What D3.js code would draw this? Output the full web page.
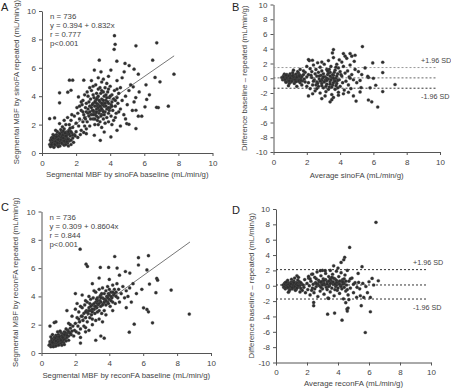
<!DOCTYPE html>
<html><head><meta charset="utf-8">
<script src="https://cdn.jsdelivr.net/npm/d3@7"></script>
<style>body{margin:0;background:#fff}svg{display:block;font-family:"Liberation Sans",Arial,sans-serif}</style>
</head><body><div id="main"></div>
<script>
// ticks
const ticks0to10 = [0, 2, 4, 6, 8, 10];
const ticksDiff = [-10, -8, -6, -4, -2, 0, 2, 4, 6, 8, 10];

// A: sinoFA baseline vs repeated
const sinoPairs = [
[0.45,0.6],[0.5,0.9],[0.55,0.75],[0.6,1.1],[0.6,0.5],[0.65,0.85],[0.7,0.65],[0.7,1.0],[0.75,1.2],[0.75,0.8],[0.8,0.55],[0.8,0.95],[0.85,1.3],[0.85,0.7],[0.9,1.05],[0.9,0.85],[0.95,0.6],[0.95,1.15],[1.0,0.9],[1.0,1.4],[1.0,0.7],[1.05,1.05],[1.05,0.5],[1.1,1.25],[1.1,0.8],[1.15,0.95],[1.15,1.5],[1.2,0.65],[1.2,1.1],[1.25,0.85],[1.25,1.3],[1.3,1.0],[1.3,0.55],[1.35,1.2],[1.35,0.75],[1.4,1.45],[1.4,0.9],[1.45,1.1],[1.5,0.7],[1.5,1.3],[1.55,1.0],[1.6,1.6],[1.6,0.85],[1.65,1.2],[1.7,0.6],[1.75,1.4],[1.8,1.05],[0.65,1.3],[0.55,1.05],[0.5,0.45],[0.9,1.5],[0.8,1.6],[1.1,1.65],[1.2,1.45],[1.3,1.7],[0.7,0.4],[0.95,0.45],[1.4,0.6],[1.55,0.5],[1.0,1.2],[0.85,1.0],[1.15,0.7],[1.25,1.55],[1.45,1.35],[1.05,0.85],[0.75,1.05],[0.6,0.7],[1.35,0.95],[1.7,0.9],[1.9,1.3],[1.85,0.75],
[0.6,0.95],[0.7,1.2],[0.8,0.8],[0.9,0.7],[1.0,1.0],[1.1,0.95],[1.2,1.25],[1.3,0.85],[1.4,1.2],[1.5,0.95],[1.6,1.35],[0.75,0.6],[0.85,1.15],[0.95,0.95],[1.05,1.35],[1.15,1.1],[1.25,1.05],[1.35,1.4],[1.45,0.8],[1.55,1.5],[0.65,1.05],[0.55,0.6],[1.7,1.5],[1.8,1.25],
[1.6,2.0],[1.7,2.3],[1.8,1.8],[1.9,2.6],[2.0,2.1],[2.0,1.5],[2.1,2.8],[2.15,1.9],[2.2,2.4],[2.3,3.0],[2.3,1.6],[2.4,2.2],[2.45,2.7],[2.5,1.9],[1.95,1.2],[2.1,1.1],[2.25,1.3],[1.4,2.0],[1.3,2.3],[1.2,1.85],[1.5,2.5],[1.75,2.7],[2.05,3.2],[2.35,3.4],[2.45,1.45],[2.6,1.7],[2.55,2.4],[1.65,1.75],
[2.6,2.9],[2.6,3.5],[2.65,2.2],[2.7,3.1],[2.7,4.0],[2.75,2.6],[2.8,3.3],[2.8,1.9],[2.85,3.8],[2.9,2.7],[2.9,4.4],[2.95,3.0],[3.0,2.4],[3.0,3.5],[3.0,4.1],[3.05,2.9],[3.1,3.3],[3.1,2.0],[3.15,3.7],[3.15,4.8],[3.2,2.6],[3.2,3.1],[3.25,3.9],[3.25,2.3],[3.3,3.4],[3.3,4.5],[3.35,2.8],[3.35,3.0],[3.4,3.6],[3.4,2.2],[3.45,4.2],[3.45,3.2],[3.5,2.7],[3.5,3.8],[3.5,5.0],[3.55,3.0],[3.6,3.5],[3.6,2.4],[3.65,4.0],[3.65,3.3],[3.7,2.9],[3.7,4.6],[3.75,3.7],[3.8,3.1],[3.8,2.5],[3.85,4.3],[3.9,3.5],[3.9,2.8],[3.95,3.9],[4.0,3.2],[4.0,4.7],[4.05,2.6],[4.1,3.6],[4.1,4.1],[4.15,3.0],[4.2,3.8],[4.2,2.3],[4.25,4.4],[4.3,3.3],[4.35,2.8],[4.4,3.9],[4.45,3.5],[4.5,4.2],[4.5,2.9],[2.55,3.2],[2.65,4.3],[2.75,3.6],[2.85,2.4],[2.95,3.4],[3.05,3.9],[3.15,2.8],[3.25,3.3],[3.35,3.7],[3.45,2.6],[3.55,3.4],[3.65,2.7],[3.75,3.3],[3.85,3.6],[3.95,3.0],[4.05,3.4],[3.2,4.2],[3.4,4.6],[3.6,4.3],[3.8,4.9],[3.0,4.7],[2.8,4.6],[3.3,5.3],[3.6,5.2],[3.9,5.4],[2.9,5.1],[3.1,2.4],[3.3,2.0],[3.5,1.8],[3.7,2.1],[3.9,2.2],[4.1,2.0],[4.3,2.5],[4.6,3.1],[4.7,3.7],[4.8,2.7],[4.6,4.6],[4.9,4.0],[5.0,3.4],[5.1,4.4],[2.4,3.7],[2.5,4.1],[2.3,3.6],[2.2,3.3],[3.0,3.0],[3.4,3.0],[3.2,3.5],[3.1,2.7],[3.5,3.1],[3.3,2.5],
[2.7,2.8],[2.9,3.2],[3.1,3.6],[3.3,3.2],[3.5,3.5],[3.7,3.5],[3.9,3.2],[4.1,3.3],[3.0,2.7],[3.2,2.9],[3.4,3.3],[3.6,3.7],[3.8,3.9],[4.0,4.0],[3.3,4.0],[3.5,4.4],[2.8,2.9],[3.6,2.9],[3.2,3.8],[2.5,2.5],[2.4,2.9],[3.9,4.5],[4.3,3.7],[4.4,4.5],[3.75,4.1],
[4.25,8.26],[4.29,7.65],[4.23,7.3],[5.51,7.55],[6.73,7.76],[3.36,6.54],[4.39,6.47],[4.87,6.31],[6.49,6.54],[5.11,6.16],[5.4,5.9],[7.74,5.55],[6.63,5.32],[6.92,5.01],[1.61,5.13],[1.8,5.13],[2.45,5.13],[3.07,5.84],[3.46,5.72],[4.04,5.84],[4.82,5.72],[5.65,5.55],[5.35,4.66],[1.03,4.24],[1.51,4.28],[1.7,4.42],[2.14,3.95],[1.03,3.53],[0.45,2.42],[0.74,2.47],[1.03,2.07],[7.41,3.3],[6.82,3.2],[6.72,3.22],[6.14,3.77],[6.04,3.25],[5.51,3.01],[5.65,2.59],[5.85,2.59],[5.51,1.72],[4.97,2.07],[5.1,2.02],[3.65,1.48],[4.04,1.13],[3.42,0.89],[3.07,1.25],[2.6,1.36],[5.3,3.0],[5.5,3.9],[5.7,4.3],[5.2,4.8],[4.7,5.3],[4.4,5.1],[6.3,4.1],[6.1,4.8],[5.4,3.6],[4.9,2.4],[4.6,1.9],[4.4,1.6]
];

// B: Bland-Altman sinoFA (average, difference)
const sinoDiffPairs = [
[0.5,0.1],[0.55,-0.2],[0.6,0.3],[0.6,-0.1],[0.65,0.0],[0.7,0.4],[0.7,-0.3],[0.75,0.15],[0.8,-0.05],[0.8,0.5],[0.85,-0.4],[0.85,0.2],[0.9,0.0],[0.9,-0.2],[0.95,0.35],[1.0,-0.1],[1.0,0.6],[1.05,0.1],[1.05,-0.5],[1.1,0.25],[1.1,-0.25],[1.15,0.0],[1.2,0.45],[1.2,-0.15],[1.25,0.2],[1.3,-0.4],[1.3,0.1],[1.35,0.55],[1.4,-0.05],[1.4,0.3],[1.45,-0.3],[1.5,0.15],[1.5,0.7],[1.55,-0.2],[1.6,0.4],[1.6,-0.6],[1.65,0.05],[1.7,0.25],[1.75,-0.35],[1.8,0.5],[1.85,-0.1],[1.9,0.8],[0.65,0.55],[0.75,-0.55],[0.95,-0.7],[1.15,0.75],[1.25,-0.7],[1.45,0.9],[1.7,-0.9],[1.0,0.25],[0.8,0.3],[1.35,-0.15],[0.7,0.1],[1.55,0.45],[1.9,-0.5],[2.0,0.2],[2.0,-1.1],[1.8,1.0],[1.2,1.1],[1.6,1.2],[0.9,-1.0],[1.4,-1.1],
[0.6,0.15],[0.7,-0.15],[0.8,0.1],[0.9,0.3],[1.0,0.0],[1.1,-0.4],[1.2,0.2],[1.3,-0.2],[1.4,0.15],[1.5,-0.4],[0.75,0.4],[0.95,-0.35],[1.15,0.35],[1.35,-0.45],[1.55,0.3],[1.65,-0.3],
[2.1,0.5],[2.1,-0.6],[2.2,1.3],[2.2,-1.4],[2.3,0.1],[2.3,0.9],[2.35,-0.9],[2.4,1.8],[2.45,-0.2],[2.5,0.6],[2.5,-1.7],[2.55,1.2],[2.6,-0.5],[2.6,0.3],[2.65,2.1],[2.7,-1.1],[2.7,0.8],[2.75,-0.1],[2.8,1.5],[2.8,-2.0],[2.85,0.4],[2.9,-0.7],[2.9,1.0],[2.95,0.0],[3.0,-1.3],[3.0,0.6],[3.05,1.9],[3.1,-0.3],[3.1,0.2],[3.15,-1.8],[3.2,1.2],[3.2,-0.8],[3.25,0.5],[3.3,-0.1],[3.3,2.4],[3.35,-1.2],[3.4,0.8],[3.4,-0.5],[3.45,1.6],[3.5,0.1],[3.5,-2.2],[3.55,-0.9],[3.6,0.4],[3.6,2.8],[3.65,-0.3],[3.7,1.1],[3.7,-1.5],[3.75,0.0],[3.8,1.9],[3.8,-0.7],[3.85,0.6],[3.9,-1.9],[3.9,1.4],[3.95,-0.2],[4.0,0.9],[4.0,-1.1],[4.1,2.2],[4.1,0.3],[4.15,-0.6],[4.2,1.6],[4.25,-1.6],[4.3,0.7],[4.35,-0.4],[4.4,2.7],[4.45,1.0],[4.5,-0.9],[4.55,0.2],[4.6,1.8],[4.65,-1.4],[4.7,0.5],[4.8,-0.2],[4.85,2.3],[4.9,1.2],[5.0,-0.6],[5.1,0.9],[2.4,-0.4],[2.9,-0.3],[3.2,0.0],[3.4,0.3],[3.6,-0.6],[3.3,0.7],[2.75,0.3],[3.05,-0.5],[3.55,0.5],[3.75,-1.0],[2.25,0.4],[2.55,-0.9],[3.85,-0.3],[4.05,0.5],[2.0,1.6],[2.15,2.4],[2.35,-2.1],[2.6,-1.4],[3.1,-2.4],[3.6,-2.6],[4.2,-2.1],[4.5,-1.9],[4.8,-2.4],[4.3,3.0],[4.7,3.0],[3.95,2.5],[3.35,1.2],[3.75,1.5],[4.6,0.0],[5.2,-0.3],[5.3,0.5],
[2.8,-0.4],[3.0,0.2],[3.2,-0.3],[3.4,-0.8],[3.6,0.0],[3.8,0.3],[3.3,-1.5],[3.5,-1.2],[3.7,-0.4],[2.9,-1.0],[3.15,-1.1],[3.45,-0.2],[3.65,0.8],[3.25,1.0],[2.65,-0.7],[3.85,-1.3],
[5.34,4.3],[4.9,3.12],[4.6,3.35],[3.6,3.89],[3.54,3.44],[4.2,3.35],[6.56,2.17],[5.96,2.08],[2.1,2.53],[2.34,2.44],[2.9,2.2],[7.3,-0.85],[6.56,-1.8],[5.7,-2.95],[5.9,-3.2],[6.26,-3.9],[4.96,-3.1],[3.4,-3.2],[3.5,-2.9],[2.1,-2.4],[2.9,-2.76],[3.9,-2.3],[5.7,0.1],[6.0,0.0],[6.14,-0.95],[5.2,-1.86],[5.26,-1.27],[6.56,0.77],[5.66,0.27],[5.5,1.4],[5.8,-1.3]
];

// C: reconFA baseline vs repeated
const reconPairs = [
[0.45,0.55],[0.5,0.8],[0.55,0.45],[0.6,0.7],[0.6,1.0],[0.65,0.55],[0.7,0.85],[0.7,0.6],[0.75,1.1],[0.75,0.75],[0.8,0.5],[0.8,0.95],[0.85,0.7],[0.85,1.25],[0.9,0.9],[0.9,0.6],[0.95,1.05],[1.0,0.8],[1.0,1.3],[1.05,0.65],[1.05,1.0],[1.1,1.2],[1.1,0.85],[1.15,1.45],[1.15,0.7],[1.2,1.05],[1.25,0.9],[1.25,1.35],[1.3,1.15],[1.3,0.75],[1.35,1.5],[1.4,1.0],[1.4,1.25],[1.45,0.85],[1.5,1.4],[1.5,1.1],[1.55,1.6],[1.6,1.2],[1.6,0.9],[1.65,1.45],[1.7,1.75],[1.75,1.3],[1.8,1.55],[0.55,1.15],[0.65,1.3],[0.95,1.5],[1.2,0.55],[1.35,0.6],[0.5,0.6],[0.7,0.45],[0.9,1.15],[1.0,0.55],[1.1,1.55],[0.8,0.7],[1.2,0.8],[0.85,0.5],[1.45,1.7],[1.9,1.2],[1.85,1.9],[1.95,1.6],
[0.6,0.85],[0.7,0.7],[0.8,1.05],[0.9,0.75],[1.0,0.95],[1.1,1.0],[1.2,1.2],[1.3,0.95],[1.4,1.4],[1.5,1.25],[0.75,0.9],[0.95,0.8],[1.05,1.15],[1.15,0.9],[1.25,1.1],[1.35,1.3],[0.65,0.75],[0.85,0.85],[1.6,1.5],[1.7,1.4],
[2.0,2.1],[2.05,1.5],[2.1,2.5],[2.15,1.9],[2.2,2.9],[2.25,2.2],[2.3,1.7],[2.35,2.6],[2.4,3.2],[2.45,2.3],[2.5,2.8],[2.5,1.9],[2.55,3.4],[2.6,2.5],[2.65,3.0],[2.7,2.2],[2.7,3.6],[2.75,2.8],[2.8,3.2],[2.85,2.5],[2.9,3.8],[2.9,3.0],[2.95,2.7],[3.0,3.4],[3.0,2.4],[3.05,3.9],[3.1,3.1],[3.15,2.8],[3.2,3.6],[3.2,4.3],[3.25,3.2],[3.3,2.9],[3.3,3.9],[3.35,3.4],[3.4,4.5],[3.4,3.0],[3.45,3.7],[3.5,4.1],[3.5,3.3],[3.55,2.8],[3.6,3.9],[3.6,4.6],[3.65,3.5],[3.7,4.2],[3.7,3.0],[3.75,3.8],[3.8,4.4],[3.8,3.4],[3.85,4.0],[3.9,4.7],[3.9,3.6],[3.95,4.2],[4.0,3.8],[4.0,4.5],[4.05,3.3],[4.1,4.3],[4.15,3.9],[4.2,4.8],[4.2,3.6],[4.25,4.1],[4.3,4.5],[4.35,3.5],[4.4,4.3],[4.45,4.9],[4.5,3.9],[4.55,4.5],[4.6,3.6],[4.7,4.2],[4.8,4.7],[4.9,3.9],[5.0,4.4],[5.1,4.0],[5.2,4.6],[2.3,3.3],[2.6,3.7],[2.8,4.0],[3.1,4.4],[2.2,1.4],[2.6,1.8],[3.0,2.0],[3.4,2.4],[3.8,2.7],[4.2,3.0],[1.6,2.1],[1.7,2.0],[1.5,3.0],[1.8,2.6],[2.0,3.1],[2.1,3.5],[2.4,4.1],[2.3,1.1],[2.8,1.6],[3.2,2.3],[3.6,2.2],[3.0,2.9],[3.3,3.5],[3.7,3.8],[4.1,3.7],[4.4,4.0],[2.7,2.9],[3.5,3.6],[3.9,4.0],[3.15,3.3],[2.85,3.5],[3.45,4.0],[3.95,3.5],[4.3,4.2],
[2.9,3.3],[3.1,3.5],[3.3,3.7],[3.5,3.9],[3.7,3.6],[3.9,3.9],[4.1,4.0],[3.0,3.1],[3.2,3.3],[3.4,3.5],[3.6,3.4],[3.8,3.7],[4.0,4.1],[2.6,2.9],[2.8,3.0],[3.25,3.8],[3.55,4.2],[4.2,4.3],[2.4,2.6],[2.2,2.4],
[2.28,7.34],[4.32,6.82],[6.31,6.88],[5.72,6.74],[5.72,6.22],[2.63,6.28],[2.71,6.12],[3.47,6.05],[3.96,6.05],[4.46,6.0],[4.95,5.76],[5.21,5.65],[6.22,5.87],[6.8,5.27],[6.85,5.15],[6.37,4.87],[5.92,4.5],[7.65,4.45],[6.75,4.26],[6.02,3.19],[6.22,3.08],[6.31,2.91],[6.55,2.13],[5.47,2.04],[5.18,1.47],[8.72,2.75],[0.75,2.15],[0.85,2.2],[0.5,1.9],[3.0,4.9],[3.4,5.3],[4.0,5.2],[4.6,5.5],[5.4,4.9],[5.6,4.2],[2.6,1.5],[3.5,1.2],[3.7,1.05],[2.3,0.7],[3.2,0.9],[5.0,3.2],[5.3,3.6],[2.0,4.2]
];

// D: Bland-Altman reconFA (average, difference)
const reconDiffPairs = [
[0.45,0.1],[0.5,-0.2],[0.55,0.3],[0.6,0.0],[0.6,-0.4],[0.65,0.2],[0.7,-0.1],[0.7,0.5],[0.75,0.1],[0.8,-0.3],[0.8,0.35],[0.85,0.0],[0.9,-0.5],[0.9,0.2],[0.95,0.45],[1.0,-0.15],[1.0,0.1],[1.05,-0.4],[1.1,0.3],[1.1,-0.05],[1.15,0.6],[1.2,-0.3],[1.2,0.15],[1.25,0.0],[1.3,0.4],[1.3,-0.5],[1.35,0.1],[1.4,-0.2],[1.45,0.3],[1.5,-0.1],[1.5,0.55],[1.55,0.05],[1.6,-0.35],[1.65,0.25],[1.7,-0.6],[1.75,0.1],[1.8,-0.2],[0.55,-0.1],[0.65,-0.25],[0.75,0.7],[0.85,-0.7],[0.95,0.0],[1.05,0.5],[1.25,-0.6],[1.4,0.75],[0.7,0.25],[1.15,-0.2],[1.35,0.35],[0.6,0.4],[0.9,-0.15],[1.6,0.4],[1.85,0.8],[1.9,-0.9],[1.55,-0.8],[1.0,0.85],[1.2,1.0],[0.8,-0.85],
[0.6,0.2],[0.7,0.05],[0.8,0.15],[0.9,-0.05],[1.0,0.3],[1.1,0.1],[1.2,-0.1],[1.3,0.2],[1.4,0.0],[0.75,-0.2],[0.95,0.25],[1.15,0.4],[1.35,-0.3],[0.65,0.45],[1.05,-0.25],
[2.0,0.3],[2.05,-0.5],[2.1,1.0],[2.15,0.0],[2.2,-1.2],[2.25,0.6],[2.3,1.5],[2.35,-0.3],[2.4,0.2],[2.45,-0.9],[2.5,1.1],[2.55,0.4],[2.6,-0.1],[2.65,1.8],[2.7,-1.4],[2.75,0.7],[2.8,0.0],[2.85,-0.7],[2.9,1.3],[2.95,0.3],[3.0,-0.4],[3.0,2.0],[3.05,0.9],[3.1,-1.1],[3.15,0.1],[3.2,1.6],[3.25,-0.2],[3.3,0.5],[3.35,-1.6],[3.4,1.2],[3.45,0.0],[3.5,-0.8],[3.5,2.0],[3.55,0.7],[3.6,-0.3],[3.65,1.5],[3.7,0.2],[3.75,-1.3],[3.8,0.9],[3.85,-0.1],[3.9,1.9],[3.95,-0.6],[4.0,0.4],[4.05,1.2],[4.1,-1.0],[4.15,0.0],[4.2,1.7],[4.25,-0.4],[4.3,0.8],[4.35,-1.7],[4.4,0.3],[4.45,1.4],[4.5,-0.7],[4.55,0.1],[4.6,2.0],[4.65,-1.2],[4.7,0.6],[4.8,-0.3],[4.9,1.0],[5.0,-0.9],[5.1,0.4],[5.2,-1.5],[5.3,1.6],[2.5,-0.4],[2.8,0.5],[3.1,0.3],[3.3,-0.5],[3.6,0.4],[3.9,0.1],[4.2,0.6],[2.6,0.9],[3.4,-0.1],[3.8,-0.5],[4.4,-0.2],[2.3,-0.6],[2.9,-0.2],[3.2,0.8],[3.7,1.0],[4.0,-0.3],[4.3,0.2],[4.6,-0.5],[2.2,0.9],[2.7,0.2],[3.0,0.6],[3.5,0.3],[3.9,0.7],[4.1,0.2],[4.5,0.6],[4.8,0.9],[5.0,0.2],[5.4,-0.4],[5.6,0.3],
[2.9,0.5],[3.1,0.7],[3.3,0.2],[3.5,0.9],[3.7,0.5],[3.9,0.4],[4.1,0.6],[4.3,0.5],[3.4,0.6],[3.8,0.2],[4.2,-0.1],[2.6,0.3],[3.0,0.1],[3.6,1.1],[4.4,0.9],
[6.45,8.26],[4.75,5.0],[4.43,3.7],[4.37,3.39],[4.2,3.04],[3.72,2.6],[4.0,2.3],[5.55,2.48],[6.2,0.96],[6.6,0.65],[6.0,0.52],[5.44,-1.3],[5.66,-1.52],[6.09,-1.52],[5.5,-2.6],[6.09,-3.39],[5.76,-6.09],[4.26,-4.48],[3.33,-3.7],[3.78,-3.56],[4.58,-3.04],[4.6,-3.3],[4.65,-2.9],[2.43,-2.17],[2.43,-2.6],[3.4,-1.65],[2.1,1.22],[2.37,1.52],[1.35,1.3],[1.45,1.1],[2.86,1.96],[3.18,1.96],[5.23,-0.2],[5.33,0.43],[4.5,-2.2],[4.7,-1.8],[5.8,-0.1],[6.3,0.1],[5.9,-0.9]
];

// regression fits and agreement limits
const sinoFit = {a: 0.394, b: 0.832, from: 0.5, to: 7.75};
const reconFit = {a: 0.309, b: 0.8604, from: 0.5, to: 8.76};
const sinoLimits = [1.45, 0.05, -1.35];
const reconLimits = [2.1, 0.1, -1.73];
const sinoStats = ["n = 736", "y = 0.394 + 0.832x", "r = 0.777", "p<0.001"];
const reconStats = ["n = 736", "y = 0.309 + 0.8604x", "r = 0.844", "p<0.001"];

const svg = d3.select("#main").append("svg").attr("width", 451).attr("height", 389);

function drawPanel(p) {
  const x = d3.scaleLinear().domain(p.xDomain).range(p.xRange);
  const y = d3.scaleLinear().domain(p.yDomain).range(p.yRange);
  const g = svg.append("g");

  const xAxis = g.append("g").attr("transform", `translate(0,${p.yRange[0]})`)
    .call(d3.axisBottom(x).tickValues(ticks0to10).tickSize(3).tickSizeOuter(0).tickPadding(4).tickFormat(d => String(d)));
  const yAxis = g.append("g").attr("transform", `translate(${p.xRange[0]},0)`)
    .call(d3.axisLeft(y).tickValues(p.yTicks).tickSize(3).tickSizeOuter(0).tickPadding(3).tickFormat(d => String(d)));
  [xAxis, yAxis].forEach(a => {
    a.select(".domain").attr("stroke", "#555");
    a.selectAll(".tick line").attr("stroke", "#555");
    a.selectAll(".tick text").attr("fill", "#444").style("font-size", "8px").style("font-family", "Liberation Sans, Arial, sans-serif");
  });

  if (p.limits) {
    const dashCols = ["#999", "#666", "#333"];
    p.limits.forEach((v, i) => {
      g.append("line").attr("x1", x(0)).attr("x2", x(9.8)).attr("y1", y(v)).attr("y2", y(v))
        .attr("stroke", p.limitCols ? p.limitCols[i] : dashCols[i]).attr("stroke-width", 1).attr("stroke-dasharray", "2,2");
    });
    g.append("text").attr("x", p.labelX).attr("y", y(p.limits[0]) - 5).text("+1.96 SD")
      .attr("fill", "#444").style("font-size", "7.2px");
    g.append("text").attr("x", p.labelX).attr("y", y(p.limits[2]) + 11).text("-1.96 SD")
      .attr("fill", "#444").style("font-size", "7.2px");
  }

  if (p.fit) {
    g.append("line")
      .attr("x1", x(p.fit.from)).attr("y1", y(p.fit.a + p.fit.b * p.fit.from))
      .attr("x2", x(p.fit.to)).attr("y2", y(p.fit.a + p.fit.b * p.fit.to))
      .attr("stroke", "#777").attr("stroke-width", 1);
  }

  g.append("g").selectAll("circle").data(p.data).join("circle")
    .attr("cx", d => x(d[0])).attr("cy", d => y(d[1])).attr("r", 1.6)
    .attr("fill", "#2e2e2e").attr("stroke", "#555").attr("stroke-width", 0.3);

  if (p.stats) {
    g.append("g").selectAll("text").data(p.stats).join("text")
      .attr("x", x(0) + 8).attr("y", (d, i) => p.yRange[1] + 8 + i * 9)
      .text(d => d).attr("fill", "#444").style("font-size", "7.8px");
  }

  g.append("text").attr("x", p.letterX).attr("y", p.letterY).text(p.letter)
    .attr("fill", "#222").style("font-size", "11px");

  g.append("text").attr("x", (p.xRange[0] + p.xRange[1]) / 2).attr("y", p.xTitleY)
    .attr("text-anchor", "middle").text(p.xTitle).attr("fill", "#444").style("font-size", "7.8px");
  g.append("text").attr("transform", `translate(${p.yTitleX},${(p.yRange[0] + p.yRange[1]) / 2}) rotate(-90)`)
    .attr("text-anchor", "middle").text(p.yTitle).attr("fill", "#444").style("font-size", "7.8px");
}

drawPanel({letter: "A", letterX: 1, letterY: 11, xDomain: [0, 10], xRange: [42, 212.5], yDomain: [0, 10], yRange: [153, 11],
  yTicks: ticks0to10, data: sinoPairs, fit: sinoFit, stats: sinoStats,
  xTitle: "Segmental MBF by sinoFA baseline (mL/min/g)", xTitleY: 177,
  yTitle: "Segmental MBF by sinoFA repeated (mL/min/g)", yTitleX: 19});

drawPanel({letter: "B", letterX: 232, letterY: 11, xDomain: [0, 10], xRange: [273.5, 440], yDomain: [-10, 10], yRange: [152, 4.5],
  yTicks: ticksDiff, data: sinoDiffPairs, limits: sinoLimits, labelX: 421,
  xTitle: "Average sinoFA (mL/min/g)", xTitleY: 178,
  yTitle: "Difference baseline \u2013 repeated (mL/min/g)", yTitleX: 247});

drawPanel({letter: "C", letterX: 1, letterY: 211, xDomain: [0, 10], xRange: [41.5, 211], yDomain: [0, 10], yRange: [353, 211.5],
  yTicks: ticks0to10, data: reconPairs, fit: reconFit, stats: reconStats,
  xTitle: "Segmental MBF by reconFA baseline (mL/min/g)", xTitleY: 378,
  yTitle: "Segmental MBF by reconFA repeated (mL/min/g)", yTitleX: 18});

drawPanel({letter: "D", letterX: 232, letterY: 214, xDomain: [0, 10], xRange: [276, 431], yDomain: [-10, 10], yRange: [362.5, 209],
  yTicks: ticksDiff, data: reconDiffPairs, limits: reconLimits, labelX: 413, limitCols: ["#333", "#333", "#333"],
  xTitle: "Average reconFA (mL/min/g)", xTitleY: 386,
  yTitle: "Difference baseline \u2013 repeated (mL/min/g)", yTitleX: 254});
</script></body></html>
